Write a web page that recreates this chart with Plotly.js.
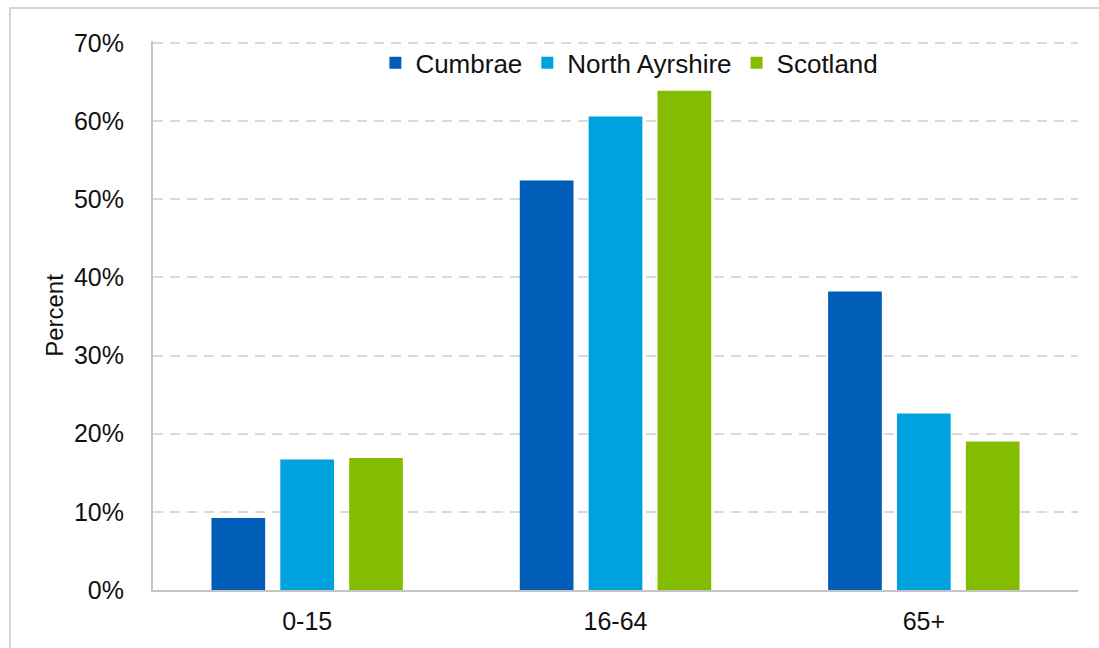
<!DOCTYPE html>
<html>
<head>
<meta charset="utf-8">
<script src="https://cdn.plot.ly/plotly-3.0.1.min.js"></script>
<style>
  html, body { margin: 0; padding: 0; background: #fff; }
  #wrap { position: relative; width: 1099px; height: 648px; overflow: hidden; }
  #chart { position: absolute; left: 0; top: 0; width: 1099px; height: 648px; }
  #frame { position: absolute; left: 9px; top: 7px; width: 1200px; height: 700px;
           border-left: 2px solid #d6d6d6; border-top: 2px solid #d6d6d6; pointer-events: none; }
</style>
</head>
<body>
<div id="wrap">
  <div id="frame"></div>
  <div id="chart"></div>
</div>
<script>
const categories = ['0-15', '16-64', '65+'];
const cumbrae = [9.2, 52.4, 38.2];
const northAyrshire = [16.7, 60.6, 22.6];
const scotland = [16.9, 63.9, 19.0];
const yTicks = [0, 10, 20, 30, 40, 50, 60, 70];

const FONT = 'Liberation Sans, Arial, sans-serif';

const traces = [
  { type: 'bar', name: 'Cumbrae', x: categories, y: cumbrae, marker: { color: '#005EB8' } },
  { type: 'bar', name: 'North Ayrshire', x: categories, y: northAyrshire, marker: { color: '#00A1DF' } },
  { type: 'bar', name: 'Scotland', x: categories, y: scotland, marker: { color: '#84BD00' } }
];

const layout = {
  width: 1099, height: 648,
  margin: { l: 153, r: 21, t: 41, b: 58, pad: 0 },
  paper_bgcolor: 'rgba(0,0,0,0)',
  plot_bgcolor: 'rgba(0,0,0,0)',
  font: { family: FONT, size: 25, color: '#111' },
  barmode: 'group',
  bargap: 0.33,
  bargroupgap: 0.22,
  showlegend: true,
  legend: {
    orientation: 'h', x: 0.515, xanchor: 'center', y: 0.96, yanchor: 'middle',
    bgcolor: 'rgba(0,0,0,0)', font: { family: FONT, size: 26, color: '#111' },
    traceorder: 'normal', itemwidth: 30
  },
  xaxis: {
    type: 'category',
    showline: true, linecolor: '#c4c4c4', linewidth: 2,
    showgrid: false, zeroline: false, ticks: '',
    ticklabelstandoff: 8,
    tickfont: { family: FONT, size: 25, color: '#111' }
  },
  yaxis: {
    range: [0, 70.26], tickvals: yTicks, ticktext: yTicks.map(v => v + '%'),
    showline: true, linecolor: '#c4c4c4', linewidth: 2,
    showgrid: true, gridcolor: '#d9d9d9', gridwidth: 2, griddash: '10px,7px',
    zeroline: false, ticks: '',
    ticklabelstandoff: 22,
    tickfont: { family: FONT, size: 25, color: '#111' },
    title: { text: 'Percent', font: { family: FONT, size: 24, color: '#111' }, standoff: 4 }
  }
};

Plotly.newPlot('chart', traces, layout, { displayModeBar: false, staticPlot: true });
</script>
</body>
</html>
